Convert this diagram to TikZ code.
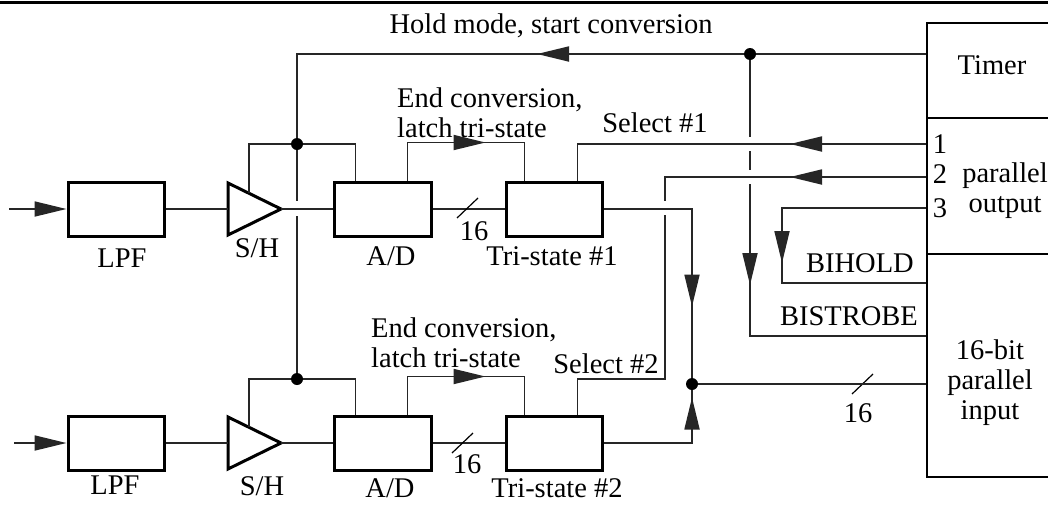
\documentclass[tikz,border=0pt]{standalone}
\usepackage{fontspec}
\setmainfont{Liberation Serif}
\usetikzlibrary{arrows.meta,decorations.markings}
\tikzset{
  blk/.style={draw=black,line width=3pt,minimum width=96pt,minimum height=54pt,inner sep=0pt},
  rbox/.style={draw=black,line width=1.5pt,minimum width=132pt,inner sep=0pt,anchor=north west},
  wire/.style={draw=black!85,line width=1.8pt},
  txt/.style={inner sep=0pt,font=\fontsize{28.5}{30}\selectfont},
  tip/.style={-{Triangle[length=32pt,width=15pt]}},
  arrowat/.style={postaction={decorate,decoration={markings,
      mark=at position #1 with {\arrow{Triangle[length=32pt,width=15pt]}}}}},
}
\begin{document}
\begin{tikzpicture}[x=1pt,y=-1pt,line join=miter]
	\useasboundingbox (0,0) rectangle (1048,504);
	\clip (0,0) rectangle (1048,504);
	\draw[line width=3pt] (0,2.5)--(1048,2.5);
	% right hand boxes
	\node[rbox,minimum height=95pt] (timer) at (926,22) {};
	\node[rbox,minimum height=136pt] (pout) at (926,117) {};
	\node[rbox,minimum height=223pt] (pin) at (926,253) {};
	\node[txt,anchor=base] (timerl) at (992,74) {Timer};
	\node[txt,anchor=north,align=center] (poutl) at (1005,163) {parallel\\output};
	\node[txt,anchor=north,align=center] (pinl) at (990,340) {16-bit\\parallel\\input};
	\node[txt,anchor=base] (n1) at (940,153) {1};
	\node[txt,anchor=base] (n2) at (940,183) {2};
	\node[txt,anchor=base] (n3) at (940,217) {3};
	\coordinate (hpin) at ([yshift=-32pt]timer.north west);
	\coordinate (p1) at ([yshift=-27pt]pout.north west);
	\coordinate (p2) at ([yshift=-60pt]pout.north west);
	\coordinate (p3) at ([yshift=-91pt]pout.north west);
	\coordinate (bhin) at ([yshift=-30pt]pin.north west);
	\coordinate (bsin) at ([yshift=-83pt]pin.north west);
	\coordinate (din) at ([yshift=-131pt]pin.north west);
	% channel 1
	\node[blk] (lpfA) at (116,209) {};
	\node[blk,minimum width=97pt] (adA) at (382.5,209) {};
	\node[blk] (triA) at (554,209) {};
	\coordinate (inA) at (9,209);
	\coordinate (shA) at (228,209);
	\coordinate (shAo) at (281,209);
	\coordinate (fbA) at (249,193);
	\draw[line width=3pt] (shA) ++(0,-26)--(shAo)--++(-53,26)--cycle;
	\node[txt,anchor=base] (lpfAl) at (122,267) {LPF};
	\node[txt,anchor=base] (shAl) at (257,257) {S/H};
	\node[txt,anchor=base] (adAl) at (391,265) {A/D};
	\node[txt,anchor=base] (triAl) at (552,265) {Tri-state \#1};
	\node[txt,anchor=base] (busAl) at (474,240) {16};
	\node[txt,anchor=north west,align=left] (eocAl) at (397,88) {End conversion,\\latch tri-state};
	\node[txt,anchor=base] (selAl) at (655,132) {Select \#1};
	% channel 2
	\node[blk] (lpfB) at (116,443) {};
	\node[blk,minimum width=97pt] (adB) at (382.5,443) {};
	\node[blk] (triB) at (554,443) {};
	\coordinate (inB) at (14,443);
	\coordinate (shB) at (228,443);
	\coordinate (shBo) at (281,443);
	\coordinate (fbB) at (249,427);
	\draw[line width=3pt] (shB) ++(0,-26)--(shBo)--++(-53,26)--cycle;
	\node[txt,anchor=base] (lpfBl) at (115,494) {LPF};
	\node[txt,anchor=base] (shBl) at (262,495) {S/H};
	\node[txt,anchor=base] (adBl) at (390,497) {A/D};
	\node[txt,anchor=base] (triBl) at (557,497) {Tri-state \#2};
	\node[txt,anchor=base] (busBl) at (467,473) {16};
	\node[txt,anchor=north west,align=left] (eocBl) at (371,318) {End conversion,\\latch tri-state};
	\node[txt,anchor=base] (selBl) at (606,373) {Select \#2};
	% control side
	\coordinate (holdDot) at (750,54);
	\coordinate (trigTop) at (297,144);
	\coordinate (trigBot) at (297,379);
	\coordinate (dataDot) at (692,384);
	\node[txt,anchor=base] (holdl) at (551,33) {Hold mode, start conversion};
	\node[txt,anchor=base east] (bhl) at (914,272) {BIHOLD};
	\node[txt,anchor=base east] (bsl) at (918,325) {BISTROBE};
	\node[txt,anchor=base] (busCl) at (858,422) {16};
	% signal paths
	\draw[wire,tip] (inA)--(lpfA.west);
	\draw[wire,tip] (inB)--(lpfB.west);
	\draw[wire] (lpfA.east)--(shA) (shAo)--(adA.west);
	\draw[wire] (lpfB.east)--(shB) (shBo)--(adB.west);
	\draw[wire] (adA.east)--(triA.west);
	\draw[wire] (adB.east)--(triB.west);
	\draw[line width=1.2pt] (457,218)--(478,198) (452,453)--(473,433) (852,394)--(873,374);
	\draw[wire] (fbA) |- (trigTop) -| ([xshift=23pt]adA.north west);
	\draw[wire] (fbB) |- (trigBot) -| ([xshift=23pt]adB.north west);
	\draw[wire,arrowat=116pt] ([xshift=75pt]adA.north west)--++(0,-38) -| ([xshift=20pt]triA.north west);
	\draw[wire,arrowat=116pt] ([xshift=75pt]adB.north west)--++(0,-38) -| ([xshift=20pt]triB.north west);
	% timer and selects
	\draw[wire,arrowat=389pt] (hpin)--(holdDot)--(297,54)--(297,201);
	\draw[wire] (297,216)--(trigBot);
	\draw[wire,arrowat=136pt] (p1) -| ([xshift=73pt]triA.north west);
	\draw[wire,arrowat=136pt] (p2) -| (665,201);
	\draw[wire] (665,215)--(665,379) -| ([xshift=73pt]triB.north west);
	\draw[wire,arrowat=199pt] (p3) -| (782,283)--(bhin);
	\draw[wire] (holdDot)--(750,137) (750,151)--(750,170);
	\draw[wire,arrowat=101pt] (750,184)--(750,336)--(bsin);
	\draw[wire,arrowat=186pt] (triA.east) -| (dataDot);
	\draw[wire,arrowat=134pt] (triB.east) -| (dataDot);
	\draw[wire] (dataDot)--(din);
	\foreach \d in {trigTop,trigBot,holdDot,dataDot}
	\fill (\d) circle (6pt);
\end{tikzpicture}
\end{document}
